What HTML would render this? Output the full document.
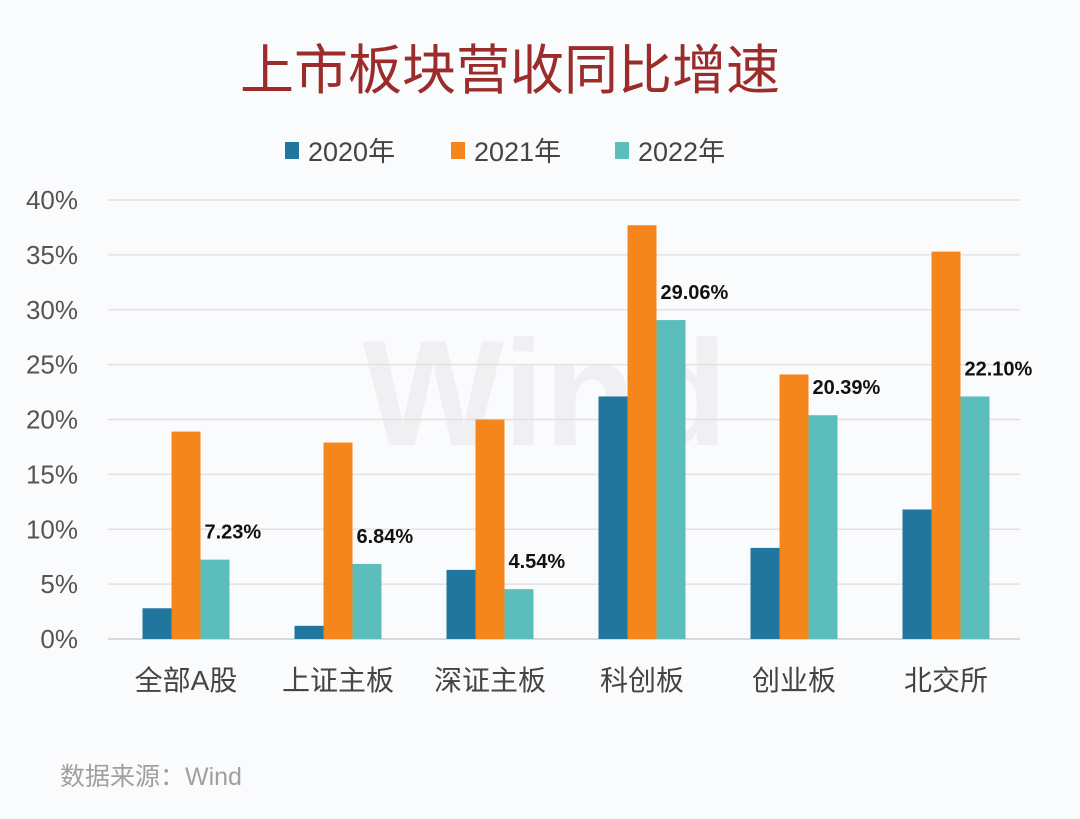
<!DOCTYPE html>
<html><head><meta charset="utf-8"><style>
body{margin:0;background:#fff}
#wrap{position:relative;width:1080px;height:819px;background:#fafbfd;overflow:hidden;font-family:"Liberation Sans","Noto Sans CJK SC",sans-serif}
.t{position:absolute;white-space:nowrap}
</style></head><body>
<div id="wrap">
<div class="t" style="left:0;width:1020px;top:26px;text-align:center;font-size:54px;color:#9b2c2a">上市板块营收同比增速</div>
<svg id="svg" width="1080" height="819" style="position:absolute;left:0;top:0"></svg>
<div class="t" style="left:60px;top:757px;font-size:25px;color:#a0a0a0">数据来源：Wind</div>
</div>
<script>
const categories=["全部A股","上证主板","深证主板","科创板","创业板","北交所"];
const series2020=[2.8,1.2,6.3,22.1,8.3,11.8];
const series2021=[18.9,17.9,20.0,37.7,24.1,35.3];
const series2022=[7.23,6.84,4.54,29.06,20.39,22.10];
const labels2022=["7.23%","6.84%","4.54%","29.06%","20.39%","22.10%"];
const yTicks=[0,5,10,15,20,25,30,35,40];
const seriesNames=["2020年","2021年","2022年"];
const colors=["#21769e","#f5861c","#5bbebc"];
const NS="http://www.w3.org/2000/svg";
const svg=document.getElementById('svg');
const x0=110,x1=1022,y0=639,y40=200;
const y=v=>y0-(v/40)*(y0-y40);
const gw=(x1-x0)/categories.length;
const bw=29;
function mk(tag,attrs,txt){const e=document.createElementNS(NS,tag);for(const k in attrs)e.setAttribute(k,attrs[k]);if(txt!=null)e.textContent=txt;svg.appendChild(e);return e;}
let wm=mk('text',{x:545,y:445,'text-anchor':'middle','font-size':150,'font-weight':'bold',fill:'#f0f0f2','font-family':'Liberation Sans,sans-serif'},'Wind');


yTicks.forEach(t=>{
 const l=mk('line',{x1:108,x2:1020,y1:y(t),y2:y(t),stroke:t===0?'#d0d0d0':'#e2e2e2','stroke-width':1.5});
 
 
 const tx=mk('text',{x:78,y:y(t)+9,'text-anchor':'end','font-size':26,fill:'#555'},t+'%');
 
 
});
const all=[series2020,series2021,series2022];
categories.forEach((c,i)=>{
 const cx=x0+gw*(i+0.5);
 all.forEach((s,j)=>{
  const bx=cx-1.5*bw+j*bw;
  const r=mk('rect',{x:bx,y:y(s[i]),width:bw,height:y0-y(s[i]),fill:colors[j]});
  
  
 });
 const lx=cx+0.5*bw+4;
 const lb=mk('text',{x:lx,y:y(series2022[i])-21,'font-size':20,'font-weight':'bold',fill:'#111'},labels2022[i]);
 
 
 const ct=mk('text',{x:cx,y:690,'text-anchor':'middle','font-size':28,fill:'#444','font-family':'Liberation Sans,Noto Sans CJK SC,sans-serif'},c);
 
 
});
const lgx=[285,451,615];
seriesNames.forEach((n,j)=>{
 const r=mk('rect',{x:lgx[j],y:142,width:14,height:17,fill:colors[j]});
 
 
 const t=mk('text',{x:lgx[j]+23,y:161,'font-size':27,fill:'#444','font-family':'Liberation Sans,Noto Sans CJK SC,sans-serif'},n);
 
 
});
</script>
</body></html>
